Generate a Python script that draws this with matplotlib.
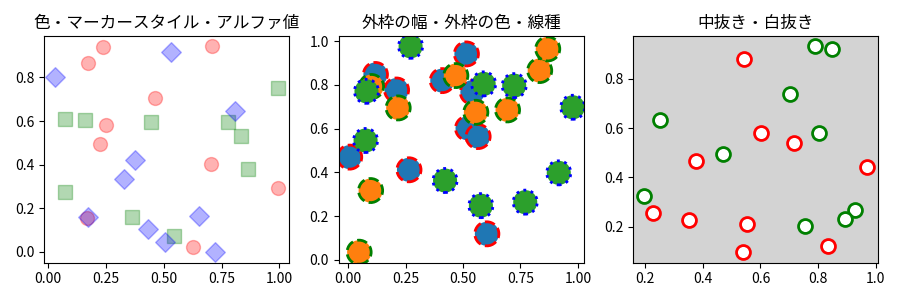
import matplotlib
matplotlib.use("Agg")
import matplotlib.pyplot as plt

plt.rcParams['font.family'] = ['Noto Sans CJK JP', 'DejaVu Sans']

# panel 1: colour / marker / alpha
red_x = [0.240, 0.176, 0.709, 0.464, 0.250, 0.224, 0.706, 0.993, 0.170, 0.629]
red_y = [0.939, 0.866, 0.943, 0.708, 0.581, 0.493, 0.402, 0.293, 0.155, 0.021]
sq_x = [0.995, 0.077, 0.160, 0.448, 0.776, 0.833, 0.863, 0.073, 0.364, 0.547]
sq_y = [0.750, 0.608, 0.605, 0.596, 0.596, 0.531, 0.381, 0.273, 0.158, 0.074]
dia_x = [0.033, 0.530, 0.808, 0.377, 0.329, 0.173, 0.434, 0.507, 0.652, 0.721]
dia_y = [0.800, 0.915, 0.644, 0.419, 0.332, 0.160, 0.104, 0.043, 0.163, -0.002]

# panel 2: edge width / edge colour / line style
blue_x = [0.007, 0.119, 0.211, 0.265, 0.410, 0.515, 0.520, 0.566, 0.541, 0.604]
blue_y = [0.470, 0.848, 0.777, 0.412, 0.820, 0.942, 0.602, 0.564, 0.767, 0.119]
orange_x = [0.048, 0.098, 0.102, 0.218, 0.469, 0.556, 0.694, 0.834, 0.869]
orange_y = [0.035, 0.317, 0.793, 0.695, 0.843, 0.675, 0.686, 0.866, 0.965]
green_x = [0.272, 0.080, 0.076, 0.422, 0.578, 0.590, 0.723, 0.771, 0.917, 0.978]
green_y = [0.977, 0.771, 0.546, 0.363, 0.248, 0.805, 0.797, 0.264, 0.398, 0.698]

# panel 3: hollow markers
hr_x = [0.542, 0.602, 0.715, 0.377, 0.970, 0.227, 0.353, 0.554, 0.539, 0.835]
hr_y = [0.878, 0.580, 0.541, 0.465, 0.444, 0.257, 0.229, 0.210, 0.097, 0.124]
hg_x = [0.790, 0.847, 0.701, 0.251, 0.804, 0.469, 0.197, 0.929, 0.894, 0.753]
hg_y = [0.931, 0.922, 0.736, 0.634, 0.580, 0.494, 0.324, 0.267, 0.230, 0.204]

fig, axes = plt.subplots(1, 3, figsize=(9, 3), dpi=100)

ax = axes[0]
ax.scatter(red_x, red_y, s=100, c="red", marker="o", alpha=0.3)
ax.scatter(sq_x, sq_y, s=100, c="green", marker="s", alpha=0.3)
ax.scatter(dia_x, dia_y, s=100, c="blue", marker="D", alpha=0.3)
ax.set_title("色・マーカースタイル・アルファ値")

ax = axes[1]
ax.scatter(blue_x, blue_y, s=300, c="C0", edgecolors="red", linewidths=2, linestyles="--")
ax.scatter(orange_x, orange_y, s=300, c="C1", edgecolors="green", linewidths=2, linestyles="--")
ax.scatter(green_x, green_y, s=300, c="C2", edgecolors="blue", linewidths=2, linestyles=":")
ax.set_title("外枠の幅・外枠の色・線種")

ax = axes[2]
ax.set_facecolor("lightgray")
ax.scatter(hr_x, hr_y, s=100, c="white", edgecolors="red", linewidths=2)
ax.scatter(hg_x, hg_y, s=100, c="white", edgecolors="green", linewidths=2)
ax.set_title("中抜き・白抜き")

fig.subplots_adjust(left=0.049, right=0.976, top=0.88, bottom=0.125, wspace=0.2)
fig.savefig("out.png")
